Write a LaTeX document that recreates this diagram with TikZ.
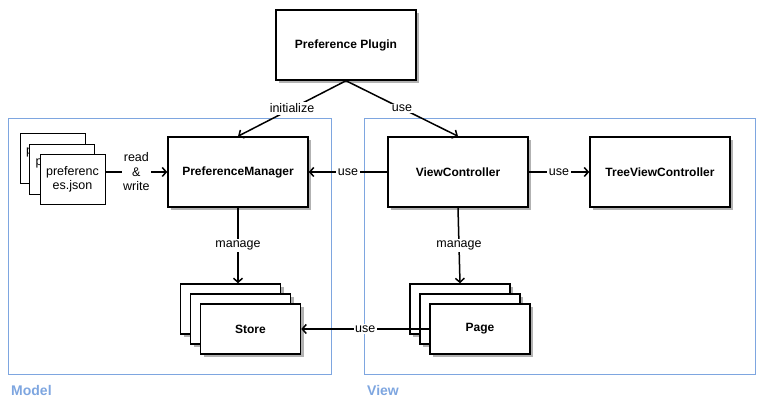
\documentclass[tikz,border=0pt]{standalone}
\usepackage{fontspec}
\setmainfont{Liberation Sans}
\usetikzlibrary{arrows.meta,shadows}
\definecolor{groupblue}{HTML}{7EA6E0}

\begin{document}
\begin{tikzpicture}[x=1pt, y=-1pt, font=\fontsize{12.5}{14.5}\selectfont,
    group/.style={draw=groupblue, line width=1pt, minimum width=323pt, minimum height=256pt, inner sep=0pt},
    grouplabel/.style={anchor=west, text=groupblue, font=\fontsize{14}{16}\selectfont\bfseries, inner sep=0pt},
    box/.style={draw, line width=1.5pt, fill=white, font=\fontsize{12}{14}\selectfont\bfseries,
        minimum width=140pt, minimum height=70pt, inner sep=0pt,
        drop shadow={shadow xshift=3pt, shadow yshift=-3pt, fill=black!30, opacity=1}},
    stackbox/.style={box, minimum width=100pt, minimum height=50pt},
    filebox/.style={draw, line width=1pt, fill=white, minimum width=65pt, minimum height=50pt, inner sep=0pt, align=center},
    conn/.style={line width=1.5pt, -{Straight Barb[length=4pt, width=9pt]}},
    lbl/.style={fill=white, inner sep=1.5pt}]
    \useasboundingbox (0,0) rectangle (764,411);
    % groups
    \node[group] (model) at (169.5,247) {};
    \node[group, minimum width=391pt] (view) at (559.5,247) {};
    \node[grouplabel] (modellbl) at (11,390) {Model};
    \node[grouplabel] (viewlbl) at (367,390) {View};
    % main boxes
    \node[box] (plugin) at (346,45) {Preference Plugin};
    \node[box] (pm) at (238,172) {PreferenceManager};
    \node[box] (vc) at (458,172) {ViewController};
    \node[box] (tvc) at (660,172) {TreeViewController};
    % preferences files
    \node[filebox] (file3) at (52.5,159) {preferenc\\es.json};
    \node[filebox] (file2) at (62,169.5) {preferenc\\es.json};
    \node[filebox] (file) at (72.5,179.5) {preferenc\\es.json};
    % stores and pages
    \node[stackbox] (store3) at (230.5,309) {};
    \node[stackbox] (store2) at (240.5,319) {};
    \node[stackbox] (store) at (250.5,329) {Store};
    \node[stackbox] (page3) at (460,309) {};
    \node[stackbox] (page2) at (470,319) {};
    \node[stackbox] (page) at (480,329) {Page};
    % connectors
    \draw[conn] (plugin.south) -- node[lbl]{initialize} (pm.north);
    \draw[conn] (plugin.south) -- node[lbl]{use} (vc.north);
    \draw[conn] (file.east |- pm.west) -- node[lbl, align=center]{read\\\&\\write} (pm.west);
    \draw[conn] (vc.west) -- node[lbl]{use} (pm.east);
    \draw[conn] (vc.east) -- node[lbl]{use} (tvc.west);
    \draw[conn] (pm.south) -- node[lbl]{manage} (pm.south |- store3.north);
    \draw[conn] (vc.south) -- node[lbl]{manage} (page3.north);
    \draw[conn] (page.west) -- node[lbl]{use} (store.east);
\end{tikzpicture}
\end{document}
